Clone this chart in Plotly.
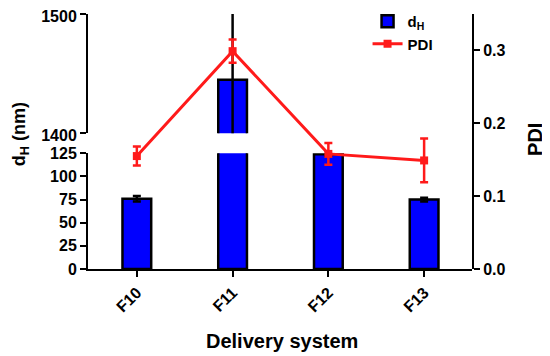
import plotly.graph_objects as go

categories = ["F10", "F11", "F12", "F13"]
dh_values = [76, 1445, 124, 75]
dh_errors = [3, 60, 2, 2]
pdi_values = [0.155, 0.299, 0.158, 0.149]
pdi_errors = [0.013, 0.016, 0.015, 0.030]
lower_ticks = [0, 25, 50, 75, 100, 125]
upper_ticks = [1400, 1500]
pdi_ticks = [0.0, 0.1, 0.2, 0.3]

FONT = "Arial, Liberation Sans, sans-serif"
BLUE = "#0000FF"
RED = "#FF1A1A"

fig = go.Figure()

bar_style = dict(
    marker=dict(color=BLUE, line=dict(color="black", width=2.5)),
    width=0.3,
    error_y=dict(type="data", array=dh_errors, color="black", thickness=2.5, width=4),
)

fig.add_trace(go.Bar(x=categories, y=dh_values, xaxis="x", yaxis="y",
                     name="d<sub>H</sub>", showlegend=True, **bar_style))
fig.add_trace(go.Bar(x=categories, y=dh_values, xaxis="x", yaxis="y2",
                     name="d<sub>H</sub>", showlegend=False, **bar_style))
fig.add_trace(go.Scatter(
    x=categories, y=pdi_values, xaxis="x", yaxis="y3", name="PDI",
    mode="lines+markers",
    line=dict(color=RED, width=3),
    marker=dict(symbol="square", size=8, color=RED),
    error_y=dict(type="data", array=pdi_errors, color=RED, thickness=2.5, width=4),
))

axis_common = dict(
    showline=True, linecolor="black", linewidth=2,
    ticks="outside", ticklen=6, tickwidth=2, tickcolor="black",
    showgrid=False, zeroline=False, automargin=False,
    ticklabeloverflow="allow",
    tickfont=dict(family=FONT, size=16, color="black", weight="bold"),
)

# page body has an 8px margin, so the figure is sized/offset to compensate
fig.update_layout(
    width=542, height=348,
    margin=dict(l=80, r=78, t=6, b=87, autoexpand=False),
    paper_bgcolor="white", plot_bgcolor="rgba(0,0,0,0)",
    barmode="overlay",
    showlegend=True,
    legend=dict(x=0.728, y=1.035, xanchor="left", yanchor="top",
                bgcolor="rgba(0,0,0,0)",
                font=dict(family=FONT, size=15, color="black", weight="bold")),
    xaxis=dict(domain=[0, 1], range=[-0.51, 3.5], anchor="y",
               tickangle=-45, **axis_common),
    yaxis=dict(domain=[0, 0.4537], range=[0, 125], tickvals=lower_ticks,
               anchor="x", **axis_common),
    yaxis2=dict(domain=[0.532, 1], range=[1400, 1500], tickvals=upper_ticks,
                anchor="x", ticklabelshift=2, **axis_common),
    yaxis3=dict(domain=[0, 1], range=[0, 0.35], tickvals=pdi_ticks, tickformat=".1f",
                side="right", anchor="x", **axis_common),
    annotations=[
        dict(text="<b>d<sub>H</sub> (nm)</b>", xref="paper", yref="paper",
             x=-0.177, y=0.529, xanchor="center", yanchor="middle",
             textangle=-90, showarrow=False,
             font=dict(family=FONT, size=18, color="black")),
        dict(text="<b>PDI</b>", xref="paper", yref="paper",
             x=1.164, y=0.51, xanchor="center", yanchor="middle",
             textangle=-90, showarrow=False,
             font=dict(family=FONT, size=20, color="black")),
        dict(text="<b>Delivery system</b>", xref="paper", yref="paper",
             x=0.505, y=-0.282, xanchor="center", yanchor="middle", showarrow=False,
             font=dict(family=FONT, size=20, color="black")),
    ],
)

fig.write_html("out.html")
